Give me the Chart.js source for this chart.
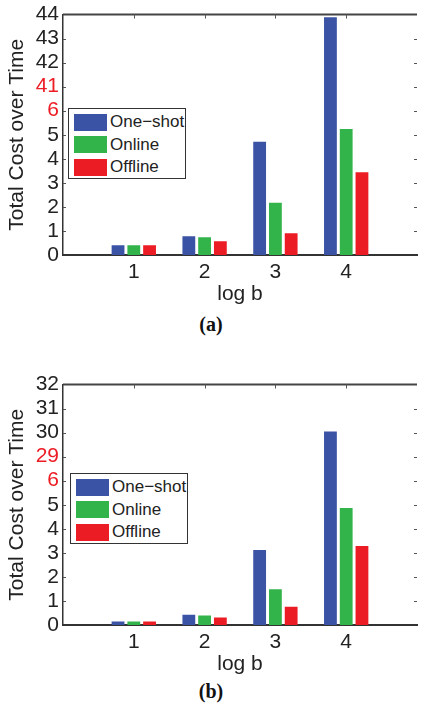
<!DOCTYPE html>
<html>
<head>
<meta charset="utf-8">
<script src="https://cdn.jsdelivr.net/npm/chart.js@4"></script>
<style>
body { margin: 0; background: #fff; width: 422px; height: 706px; position: relative; overflow: hidden; font-family: "Liberation Sans", Arial, sans-serif; }
.panel { position: absolute; left: 0; width: 422px; height: 305px; }
.legend { position: absolute; border: 1.5px solid #333; background: #fff; box-sizing: border-box; width: 118px; height: 71px; padding: 2px 0 0 5px; }
.row { display: flex; align-items: center; height: 22.5px; }
.sw { width: 33px; height: 17px; margin-right: 3px; flex: none; }
.row span { font-size: 17px; color: #222; white-space: nowrap; }
.cap { position: absolute; left: 0; width: 422px; text-align: center; font: bold 20px "Liberation Serif", "Times New Roman", serif; color: #111; }
</style>
</head>
<body>

<div class="panel" style="top:0px"><canvas id="chartA"></canvas></div>
<div class="panel" style="top:370px"><canvas id="chartB"></canvas></div>
<div class="cap" style="top:313px">(a)</div>
<div class="cap" style="top:680px">(b)</div>

<script>
// x categories (log b), with empty slots at both ends
let categories = ["", "1", "2", "3", "4", ""];
let seriesNames = ["One\u2212shot", "Online", "Offline"];
let seriesColors = ["#3a53a4", "#32b44a", "#ec1c24"];

/* -------- panel (a) -------- */
let oneShotA = [null, 0.41, 0.78, 4.71, 43.89, null];
let onlineA  = [null, 0.41, 0.74, 2.17, 5.24, null];
let offlineA = [null, 0.41, 0.57, 0.90, 3.44, null];
let yTicksA = ["0", "1", "2", "3", "4", "5", "6", "41", "42", "43", "44"];

/* -------- panel (b) -------- */
let oneShotB = [null, 0.15, 0.43, 3.12, 30.05, null];
let onlineB  = [null, 0.15, 0.39, 1.49, 4.87, null];
let offlineB = [null, 0.15, 0.31, 0.76, 3.28, null];
let yTicksB = ["0", "1", "2", "3", "4", "5", "6", "29", "30", "31", "32"];

// broken axis: values above the break are shifted down so the upper tick sits right after 6
function breakMap(vals, ticks) {
    let jump = Number(ticks[7]) - 7;
    return vals.map(v => v == null ? null : (v <= 6 ? v : v - jump));
}

let framePlugin = {
    id: "frame",
    beforeDatasetsDraw(chart) {
        let c = chart.ctx, a = chart.chartArea;
        let x = chart.scales.x, y = chart.scales.y;
        c.save();
        c.strokeStyle = "#444";
        c.lineWidth = 2;
        c.beginPath();
        c.moveTo(a.left, a.top); c.lineTo(a.right, a.top);
        c.stroke();
        c.lineWidth = 1;
        c.strokeStyle = "#555";
        c.beginPath();
        for (let i = 1; i < 10; i++) {
            let py = Math.round(y.getPixelForValue(i)) + 0.5;
            c.moveTo(a.left, py); c.lineTo(a.left + 3, py);
            c.moveTo(a.right, py); c.lineTo(a.right - 3, py);
        }
        for (let i = 1; i <= 4; i++) {
            let px = Math.round(x.getPixelForValue(i)) + 0.5;
            c.moveTo(px, a.top); c.lineTo(px, a.top + 4);
            c.moveTo(px, a.bottom); c.lineTo(px, a.bottom - 3);
        }
        c.stroke();
        c.restore();
    }
};

function makeChart(id, series, ticks) {
    new Chart(document.getElementById(id), {
        type: "bar",
        data: {
            labels: categories,
            datasets: series.map((s, i) => ({
                label: seriesNames[i],
                data: breakMap(s, ticks),
                backgroundColor: seriesColors[i],
                categoryPercentage: 0.668,
                barPercentage: 0.8125
            }))
        },
        options: {
            responsive: true,
            maintainAspectRatio: false,
            animation: false,
            layout: { padding: { top: 0, right: 0, left: 0, bottom: 0 } },
            plugins: { legend: { display: false }, tooltip: { enabled: false } },
            scales: {
                x: {
                    offset: false,
                    grid: { display: false, drawTicks: false },
                    border: { display: true, color: "#333", width: 2 },
                    ticks: { autoSkip: false, maxRotation: 0, padding: 5, color: "#222",
                             font: { family: "Liberation Sans", size: 21 } },
                    title: { display: true, text: "log b", color: "#222", padding: 0,
                             font: { family: "Liberation Sans", size: 21, lineHeight: 1 } },
                    afterFit(s) { s.height = 50; }
                },
                y: {
                    min: 0, max: 10,
                    grid: { display: false, drawTicks: false },
                    border: { display: true, color: "#333", width: 1.5 },
                    ticks: {
                        stepSize: 1, padding: 4, autoSkip: false,
                        callback: v => ticks[v],
                        color: ctx => (ctx.tick.value === 6 || ctx.tick.value === 7) ? "#ed1c24" : "#222",
                        font: { family: "Liberation Sans", size: 21, lineHeight: 1 }
                    },
                    title: { display: true, text: "Total Cost over Time", color: "#222",
                             padding: { top: 7, bottom: 0 },
                             font: { family: "Liberation Sans", size: 21, lineHeight: 1 } },
                    afterFit(s) { s.width = 63; }
                }
            }
        },
        plugins: [framePlugin]
    });
}

makeChart("chartA", [oneShotA, onlineA, offlineA], yTicksA);
makeChart("chartB", [oneShotB, onlineB, offlineB], yTicksB);

// legends placed inside the axes, as in the original figure
function makeLegend(left, top) {
    let box = document.createElement("div");
    box.className = "legend";
    box.style.left = left + "px";
    box.style.top = top + "px";
    seriesNames.forEach((n, i) => {
        let row = document.createElement("div");
        row.className = "row";
        row.innerHTML = '<div class="sw" style="background:' + seriesColors[i] + '"></div><span>' + n + '</span>';
        box.appendChild(row);
    });
    document.body.appendChild(box);
}
makeLegend(68, 108);
makeLegend(70, 473);
</script>
</body>
</html>
